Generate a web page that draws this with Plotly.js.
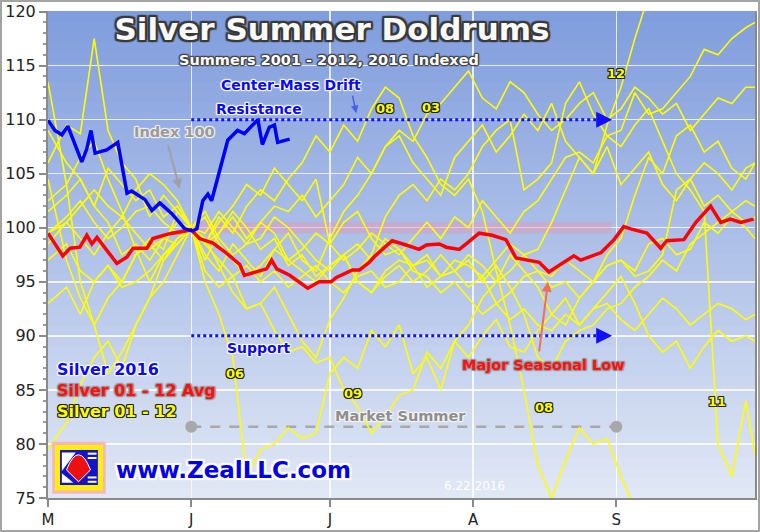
<!DOCTYPE html>
<html>
<head>
<meta charset="utf-8">
<script src="https://cdn.plot.ly/plotly-3.0.1.min.js"></script>
<style>
  html, body { margin: 0; padding: 0; background: #ffffff; }
  #wrap { position: relative; width: 760px; height: 532px; }
  #chart { width: 760px; height: 532px; }
  #frame { position: absolute; left: 0; top: 0; width: 760px; height: 532px; box-sizing: border-box;
           border: 2px solid #a3a3a3; pointer-events: none; }
</style>
</head>
<body>
<div id="wrap"><div id="chart"></div><div id="frame"></div></div>
<script>
// ---------------- DATA ----------------
// x = calendar days after May 1 (0 = May 1, 31 = Jun 1 = index 100)
const days = [0,4,7,10,13,16,19,22,25,28,31,34,37,40,43,46,49,52,55,58,61,64,67,70,73,76,79,82,85,88,91,94,97,100,103,106,109,112,115,118,121,124,127,130,133,136,139,142,145,148,151,153];
const monthTickDays = [0, 31, 61, 92, 123];
const monthLabels = ['M', 'J', 'J', 'A', 'S'];
const valueTicks = [75, 80, 85, 90, 95, 100, 105, 110, 115, 120];

const silver01 = [98.5,100.5,99.0,97.5,99.5,101.0,99.5,98.0,99.0,100.5,
  100,98.5,97.0,95.5,96.5,95.0,96.0,94.5,95.5,96.5,
  95.0,94.0,95.5,96.0,94.5,95.0,96.5,97.0,95.5,96.0,
  97.5,96.5,95.0,96.0,97.5,96.0,95.5,97.0,96.0,95.0,
  96.5,97.0,95.5,96.0,97.5,103.5,104.5,102.0,103.0,101.5,102.5,102.0];
const silver02 = [93.0,94.5,92.0,95.0,96.5,95.0,97.5,98.5,97.0,99.0,
  100,101.5,99.0,97.5,98.5,100.5,99.5,97.0,98.0,99.5,
  98.5,100.5,101.5,99.0,97.5,98.0,96.0,95.5,94.0,95.0,
  93.5,92.0,93.0,91.5,92.5,91.0,90.5,92.0,91.0,92.5,
  93.0,91.5,90.5,92.0,93.5,92.5,91.0,92.0,93.0,92.5,91.5,92.0];
const silver03 = [101.5,103.0,104.5,102.0,105.5,104.0,102.5,103.5,101.0,102.0,
  100,98.5,99.5,101.0,99.0,100.5,102.0,101.5,103.0,101.0,
  102.5,104.0,106.5,105.0,107.5,109.0,108.0,110.5,111.5,113.0,
  114.5,112.0,111.0,113.5,112.5,110.5,109.0,110.0,111.5,112.5,
  110.0,111.0,113.0,112.0,110.5,111.5,109.0,110.5,112.0,111.5,113.0,113.0];
const silver04 = [104.5,97.0,93.5,91.0,93.5,95.0,97.5,99.0,98.0,101.5,
  100,97.5,96.0,98.5,97.0,95.5,98.0,99.5,97.0,96.0,
  99.0,101.5,103.0,105.0,107.5,108.5,106.0,104.5,103.0,106.5,
  108.0,109.5,107.0,108.5,110.5,109.0,111.5,108.0,106.5,105.0,
  107.5,104.0,105.5,107.0,104.0,102.5,104.5,106.0,105.0,103.5,105.5,106.0];
const silver05 = [97.0,98.5,96.0,95.0,96.5,94.5,95.0,96.0,97.5,98.5,
  100,99.5,101.5,100.0,98.5,99.0,101.0,100.0,98.5,97.0,
  96.0,97.5,95.0,94.0,95.5,96.5,95.0,96.0,97.5,96.0,
  94.5,95.5,93.0,94.0,95.5,96.0,94.5,95.0,93.5,95.0,
  96.5,97.0,96.0,98.5,99.0,97.5,98.0,100.5,99.5,101.0,100.0,99.0];
const silver06 = [106.0,109.5,108.7,117.5,109.0,106.0,104.5,101.0,103.0,101.5,
  100,95.0,92.0,88.0,77.0,79.5,80.0,81.5,80.5,81.0,
  86.5,88.0,87.0,90.5,89.0,91.0,86.5,88.0,85.0,89.5,
  91.0,93.5,95.0,97.5,96.0,94.5,92.0,93.5,91.0,92.5,
  94.0,95.5,93.0,90.0,88.5,89.5,87.0,89.0,90.5,89.5,90.0,89.5];
const silver07 = [99.5,101.0,102.5,100.5,99.0,100.0,101.5,102.0,100.5,99.5,
  100,101.0,98.5,97.0,95.5,96.5,98.0,97.0,96.0,95.0,
  96.5,97.5,98.5,97.0,99.0,98.0,96.5,97.5,95.5,96.0,
  97.0,95.0,96.5,94.5,92.0,88.0,87.0,89.5,90.5,91.0,
  92.5,93.0,94.5,95.5,97.0,96.0,98.5,99.5,100.5,101.5,100.5,101.0];
const silver08 = [99.5,100.5,102.0,103.5,102.0,101.0,103.5,105.0,104.0,102.5,
  100,98.5,101.0,99.5,102.0,103.5,102.5,104.5,106.0,108.5,
  107.0,109.5,108.0,111.0,113.0,112.0,108.5,106.5,104.0,103.0,
  104.5,101.5,96.0,91.0,85.0,78.0,75.0,78.5,81.5,80.0,
  80.5,77.0,74.0,70.0,66.0,65.0,70.5,72.5,73.0,72.0,74.0,73.5];
const silver09 = [79.5,82.0,85.5,88.0,89.5,87.0,91.0,93.5,95.0,97.5,
  100,99.0,96.5,94.0,92.5,93.0,90.5,88.5,89.0,87.5,
  88.0,85.0,83.5,81.0,82.5,84.5,85.0,88.5,87.0,89.5,
  88.0,90.0,91.5,89.0,88.5,90.5,92.0,91.0,93.5,95.0,
  97.5,99.0,103.0,106.5,105.0,108.5,109.5,107.0,108.0,105.5,104.5,106.0];
const silver10 = [102.5,104.0,106.5,108.0,104.5,101.5,98.0,95.0,97.5,99.0,
  100,98.5,100.5,102.0,104.0,103.0,105.5,104.0,102.5,104.5,
  98.5,97.0,98.0,99.5,98.5,97.5,99.0,100.5,99.0,101.0,
  100.0,102.5,101.0,99.5,101.5,102.5,104.5,106.5,107.0,106.0,
  108.5,109.0,112.5,110.5,111.0,112.5,114.0,116.5,116.0,117.5,118.5,119.0];
const silver11 = [113.5,104.0,95.0,91.0,86.5,88.5,91.0,93.5,97.0,98.5,
  100,96.0,94.5,95.5,92.5,93.0,94.5,92.0,89.5,88.0,
  91.5,93.5,96.0,97.5,101.0,103.0,104.0,102.5,104.5,103.5,
  105.0,107.5,109.0,110.0,103.5,104.5,106.0,111.5,113.5,110.5,
  108.5,107.5,109.5,111.0,108.0,105.0,103.5,101.5,80.0,77.0,84.0,79.0];
const silver12 = [109.0,106.0,104.5,102.0,100.5,97.5,98.5,97.0,99.0,98.5,
  100,97.0,99.5,101.5,100.0,98.0,99.0,96.5,97.5,95.5,
  96.5,97.5,95.0,94.0,96.0,97.0,96.5,94.5,95.5,97.0,
  96.5,95.5,97.0,98.5,97.5,98.0,100.5,103.5,106.5,105.0,
  109.5,113.0,117.5,121.5,123.0,125.0,124.5,126.0,125.0,124.0,122.5,123.0];
const yearSeries = [silver01, silver02, silver03, silver04, silver05, silver06,
                    silver07, silver08, silver09, silver10, silver11, silver12];
const yearNames = ['2001','2002','2003','2004','2005','2006','2007','2008','2009','2010','2011','2012'];

const avgDays = [0,3.2,4.8,6.9,8.4,9.5,10.6,14.9,17.1,18.4,21.4,22.7,26.3,30.2,31,32.8,35.6,38.2,41.5,42.5,45,47.3,48.4,49.5,52.3,56.2,58.7,61.3,62.4,65.9,67.4,69.5,70.8,74.5,77.5,80.3,81.9,84.7,86.2,89.0,90.5,93.3,96.1,99.1,101.3,104.1,106.3,108.4,110.6,113.8,115.3,119.7,122.5,124.6,126.1,129.6,132.6,133.9,137.6,140.2,143.4,145.6,147.7,149.9,152.7];
const avgValues = [99.5,97.4,98.1,98.2,99.3,98.5,99.1,96.7,97.3,98.1,98.1,99.0,99.45,99.7,99.8,99.0,98.6,97.8,96.6,95.6,95.9,96.2,97.0,96.2,95.6,94.4,95.0,95.0,95.4,96.1,96.1,96.8,97.4,98.8,98.4,98.0,98.4,98.5,98.2,98.0,98.5,99.5,99.3,98.9,97.2,97.0,96.8,95.9,96.5,97.4,97.0,97.7,98.9,100.1,99.9,99.5,98.1,98.8,98.9,100.5,102.0,100.5,100.8,100.5,100.8];

const days2016 = [0,1.5,3,4.3,7.3,8.4,9.3,10.2,12.7,15.1,17.1,18.1,21,22.5,24.2,26.8,29.6,31.3,32.2,33.5,34.6,35.4,38.9,41,42.5,45.4,46.4,47.9,49,49.7,52.3];
const silver2016 = [109.95,109.0,108.6,109.4,106.1,107.3,109.0,106.9,107.2,107.9,103.2,103.4,102.6,101.6,102.3,101.3,99.9,99.7,99.9,102.5,103.1,102.5,108.1,109.0,108.7,110.0,107.7,109.3,109.5,107.9,108.2];

// guide levels
const resistanceLevel = 110, supportLevel = 90, driftSpan = [31, 121.5];
const summerLevel = 81.6, summerSpan = [31, 123];
const indexBand = [99.5, 100.5];

// ---------------- STYLE HELPERS ----------------
function outline(c, w, blur) {
  const b = blur || 0;
  const s = [];
  for (const dx of [-w, 0, w]) for (const dy of [-w, 0, w]) if (dx || dy) s.push(dx + 'px ' + dy + 'px ' + b + 'px ' + c);
  return s.join(', ');
}
const FONT = 'DejaVu Sans, Verdana, sans-serif';

// ---------------- TRACES ----------------
const traces = [];
traces.push({
  x: summerSpan, y: [summerLevel, summerLevel], mode: 'lines+markers', type: 'scatter',
  line: { color: '#a8a8a8', width: 2.5, dash: '10px,9px' },
  marker: { color: '#a8a8a8', size: 12 }, hoverinfo: 'skip', showlegend: false
});
yearSeries.forEach((s, i) => traces.push({
  x: days, y: s, name: yearNames[i], type: 'scatter', mode: 'lines',
  line: { color: '#ffff00', width: 1.6 }, hoverinfo: 'skip', showlegend: false
}));
traces.push({ x: avgDays, y: avgValues, name: 'Silver 01 - 12 Avg', type: 'scatter', mode: 'lines',
  line: { color: '#ff0000', width: 3.5 }, showlegend: false });
traces.push({ x: days2016, y: silver2016, name: 'Silver 2016', type: 'scatter', mode: 'lines',
  line: { color: '#0000ff', width: 3.5 }, showlegend: false });

// ---------------- SHAPES ----------------
const shapes = [];
const gradTop = [128, 157, 221], gradBot = [224, 231, 245], nb = 48;
for (let i = 0; i < nb; i++) {
  const t = i / (nb - 1);
  const c = gradTop.map((v, k) => Math.round(v + (gradBot[k] - v) * t));
  shapes.push({ type: 'rect', xref: 'paper', yref: 'paper', x0: 0, x1: 1,
    y0: Math.max(0, 1 - (i + 1) / nb - 0.003), y1: 1 - i / nb,
    fillcolor: 'rgb(' + c.join(',') + ')', line: { width: 0 }, layer: 'below' });
}
shapes.push({ type: 'rect', xref: 'x', yref: 'y', x0: 31, x1: 122, y0: indexBand[0], y1: indexBand[1],
  fillcolor: 'rgba(235,150,175,0.45)', line: { width: 0 }, layer: 'between' });
[resistanceLevel, supportLevel].forEach(lv => shapes.push({ type: 'line', xref: 'x', yref: 'y',
  x0: driftSpan[0], x1: driftSpan[1], y0: lv, y1: lv, line: { color: '#1010ff', width: 3, dash: 'dot' }, layer: 'above' }));
// logo
shapes.push({ type: 'rect', xref: 'x', yref: 'y', x0: 0.9, x1: 12.5, y0: 75.4, y1: 80.2, fillcolor: '#f6b7b7', line: { width: 0 }, layer: 'above' });
shapes.push({ type: 'rect', xref: 'x', yref: 'y', x0: 1.5, x1: 11.9, y0: 75.7, y1: 79.9, fillcolor: '#ffee10', line: { width: 0 }, layer: 'above' });
shapes.push({ type: 'rect', xref: 'x', yref: 'y', x0: 2.6, x1: 10.8, y0: 76.2, y1: 79.45, fillcolor: '#1515c8', line: { width: 0 }, layer: 'above' });
shapes.push({ type: 'path', xref: 'x', yref: 'y', path: 'M 3.0 79.2 L 6.0 79.2 L 3.0 77.5 Z', fillcolor: '#ffffff', line: { width: 0 }, layer: 'above' });
shapes.push({ type: 'path', xref: 'x', yref: 'y', path: 'M 3.0 76.4 L 5.5 76.4 L 3.0 77.3 Z', fillcolor: '#ffffff', line: { width: 0 }, layer: 'above' });
[79.1, 78.7, 76.9, 76.5].forEach(v => shapes.push({ type: 'line', xref: 'x', yref: 'y', x0: 8.6, x1: 10.5, y0: v, y1: v,
  line: { color: '#ffffff', width: 2 }, layer: 'above' }));
shapes.push({ type: 'path', xref: 'x', yref: 'y', path: 'M 4.0 77.6 Q 6.6 80.4 9.2 77.6 L 6.6 76.5 Z', fillcolor: '#ee1010', line: { color: '#ffffff', width: 1 }, layer: 'above' });

// ---------------- ANNOTATIONS ----------------
const ann = [];
function label(text, x, y, color, size, oc, extra) {
  ann.push(Object.assign({ text: text, x: x, y: y, xref: 'x', yref: 'y', showarrow: false,
    font: { family: FONT, size: size, color: color, weight: 'bold', shadow: oc } }, extra || {}));
}
const grayGlow = outline('rgba(150,150,150,0.9)', 1, 1);
const whiteGlow = outline('rgba(255,255,255,0.85)', 1, 1);
const blackEdge = outline('#222', 1, 0);
label('Summers 2001 - 2012, 2016 Indexed', 60.9, 115.5, '#ffffff', 14.5, outline('#444', 1, 1));
label('Center-Mass Drift', 52.5, 113.2, '#0a0af0', 14, whiteGlow);
label('Resistance', 45.6, 111.0, '#0a0af0', 14, whiteGlow);
label('Index 100', 27.4, 108.9, '#9a9a9a', 14.5, outline('rgba(240,240,240,0.9)', 1, 1));
label('Support', 45.6, 88.9, '#0a0af0', 14, whiteGlow);
label('Major Seasonal Low', 107.3, 87.3, '#ff1010', 14.5, grayGlow);
label('Market Summer', 76.2, 82.6, '#8e8e8e', 14.5, outline('rgba(245,245,245,0.9)', 1, 1));
label('Silver 2016', 1.5, 86.9, '#0a0af0', 16, whiteGlow, { xanchor: 'left' });
label('Silver 01 - 12 Avg', 1.5, 84.9, '#ff1010', 16, grayGlow, { xanchor: 'left' });
label('Silver 01 - 12', 1.5, 83.0, '#ffff00', 16, blackEdge, { xanchor: 'left' });
label('www.ZealLLC.com', 14.3, 77.6, '#0000e8', 23, outline('#ffffff', 2, 1), { xanchor: 'left' });
label('6.22.2016', 92.4, 76.1, '#ffffff', 12, '1px 1px 1px rgba(120,120,140,0.6)', { font: { family: FONT, size: 12, color: '#ffffff' } });
[['08', 73, 111.0], ['03', 82.9, 111.1], ['12', 122.9, 114.3], ['06', 40.4, 86.5],
 ['09', 66.1, 84.7], ['08', 107.3, 83.4], ['11', 144.7, 83.9]].forEach(a => label(a[0], a[1], a[2], '#ffff00', 13, blackEdge));
// arrows
function arrow(x, y, ax, ay, color, w, head, size) {
  ann.push({ x: x, y: y, xref: 'x', yref: 'y', text: '', showarrow: true, ax: ax, ay: ay,
    arrowcolor: color, arrowwidth: w, arrowhead: head, arrowsize: size || 1, standoff: 0 });
}
arrow(66.7, 110.6, -4, -19, '#4a5ee8', 1.5, 2, 1);
arrow(28.5, 103.6, -12, -45, '#a0a0a0', 2, 2, 1);
arrow(108.2, 95.0, -9, 71, '#f07050', 2, 2, 1);
arrow(driftSpan[1] + 0.6, resistanceLevel, -12, 0, '#1010ff', 2, 2, 1.6);
arrow(driftSpan[1] + 0.6, supportLevel, -12, 0, '#1010ff', 2, 2, 1.6);

// ---------------- LAYOUT ----------------
const layout = {
  width: 760, height: 532,
  margin: { l: 48, r: 5, t: 11, b: 34, pad: 0 },
  paper_bgcolor: '#ffffff', plot_bgcolor: '#c0cfee',
  showlegend: false, hovermode: false,
  title: { text: 'Silver Summer Doldrums', x: 332 / 760, y: 1 - 29 / 532, xref: 'container', yref: 'container',
    xanchor: 'center', yanchor: 'middle',
    font: { family: FONT, size: 31, color: '#fafafa', weight: 'bold', shadow: outline('#3a3a3a', 2, 1) } },
  xaxis: {
    range: [0, 153], tickmode: 'array', tickvals: monthTickDays, ticktext: monthLabels,
    showgrid: true, gridcolor: 'rgba(255,255,255,0.8)', gridwidth: 1.5, zeroline: false,
    ticks: 'outside', ticklen: 7, tickwidth: 2, tickcolor: '#8a8a8a',
    showline: true, linecolor: '#8a8a8a', linewidth: 2, ticklabelstandoff: 0,
    tickfont: { family: FONT, size: 15, color: '#222' }, fixedrange: true
  },
  yaxis: {
    range: [75, 120.05], tickmode: 'array', tickvals: valueTicks,
    showgrid: true, gridcolor: 'rgba(255,255,255,0.8)', gridwidth: 1.5, zeroline: false,
    ticks: 'outside', ticklen: 7, tickwidth: 2, tickcolor: '#8a8a8a',
    showline: true, linecolor: '#8a8a8a', linewidth: 2, mirror: true, ticklabeloverflow: 'allow',
    minor: { tickmode: 'linear', tick0: 75, dtick: 1, ticks: 'outside', ticklen: 3, tickcolor: '#9a9a9a', showgrid: false },
    tickfont: { family: FONT, size: 16, color: '#222' }, fixedrange: true
  },
  shapes: shapes, annotations: ann
};
Plotly.newPlot('chart', traces, layout, { staticPlot: true, displayModeBar: false });
</script>
</body>
</html>
